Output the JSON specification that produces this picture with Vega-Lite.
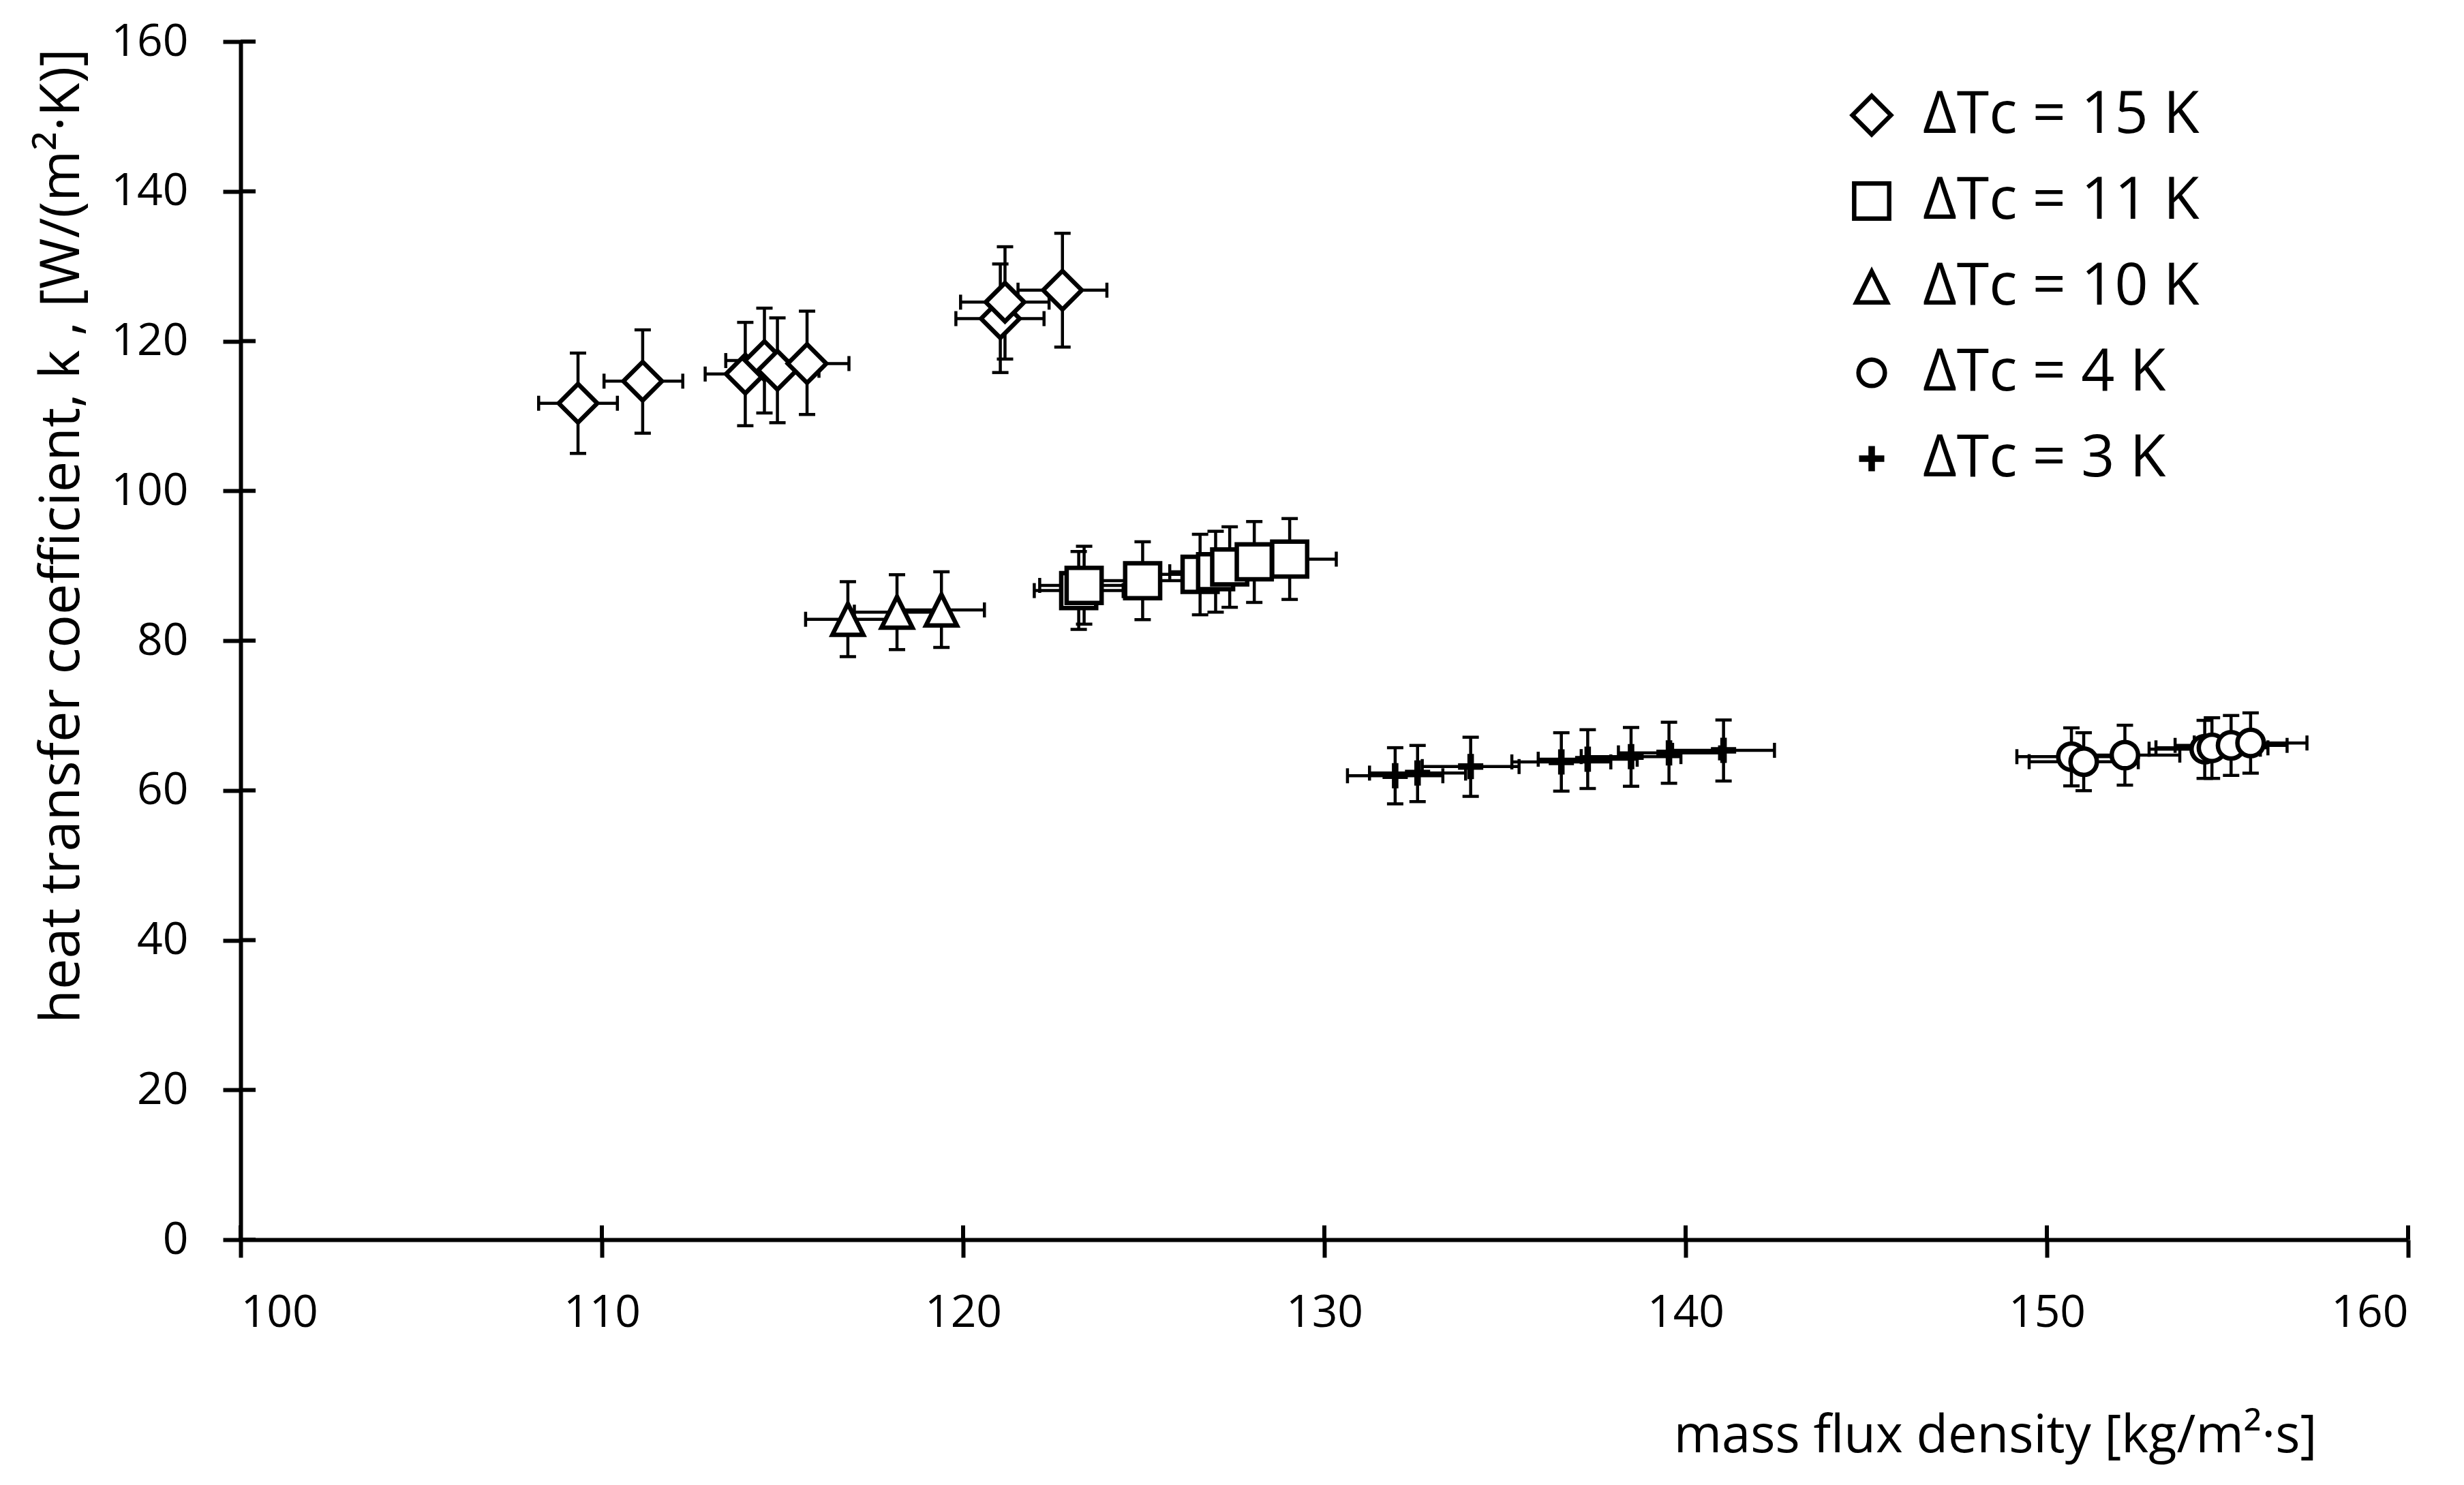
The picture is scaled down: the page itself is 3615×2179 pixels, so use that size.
{
  "$schema": "https://vega.github.io/schema/vega-lite/v6.json",
  "width": 3180,
  "height": 1758,
  "autosize": {"type": "none"},
  "padding": {"left": 353, "top": 61, "right": 82, "bottom": 360},
  "background": "white",
  "config": {
    "view": {"stroke": null},
    "font": "Open Sans",
    "axis": {
      "grid": false,
      "domainColor": "black",
      "domainWidth": 6,
      "tickColor": "black",
      "tickWidth": 6,
      "tickSize": 26,
      "labelFont": "Open Sans",
      "labelFontSize": 66,
      "labelColor": "black",
      "titleFont": "Open Sans",
      "titleFontSize": 76,
      "titleFontWeight": "normal",
      "titleColor": "black"
    },
    "legend": {
      "labelFont": "Open Sans",
      "labelFontSize": 86,
      "labelColor": "black",
      "labelLimit": 0,
      "symbolStrokeColor": "black",
      "symbolStrokeWidth": 6.5,
      "symbolOpacity": 1
    }
  },
  "datasets": {
    "pts": [
      {"series": "ΔTc = 15 K", "x": 109.34, "y": 111.7, "xlo": 108.25, "xhi": 110.43, "ylo": 105.0, "yhi": 118.4},
      {"series": "ΔTc = 15 K", "x": 111.13, "y": 114.65, "xlo": 110.06, "xhi": 112.24, "ylo": 107.7, "yhi": 121.5},
      {"series": "ΔTc = 15 K", "x": 113.97, "y": 115.6, "xlo": 112.86, "xhi": 115.08, "ylo": 108.7, "yhi": 122.5},
      {"series": "ΔTc = 15 K", "x": 114.5, "y": 117.4, "xlo": 113.43, "xhi": 115.57, "ylo": 110.4, "yhi": 124.4},
      {"series": "ΔTc = 15 K", "x": 114.86, "y": 116.1, "xlo": 113.71, "xhi": 116.01, "ylo": 109.1, "yhi": 123.1},
      {"series": "ΔTc = 15 K", "x": 115.68, "y": 117.0, "xlo": 114.52, "xhi": 116.84, "ylo": 110.2, "yhi": 124.0},
      {"series": "ΔTc = 15 K", "x": 121.03, "y": 123.0, "xlo": 119.8, "xhi": 122.24, "ylo": 115.8, "yhi": 130.3},
      {"series": "ΔTc = 15 K", "x": 121.16, "y": 125.2, "xlo": 119.93, "xhi": 122.38, "ylo": 117.6, "yhi": 132.6},
      {"series": "ΔTc = 15 K", "x": 122.75, "y": 126.8, "xlo": 121.52, "xhi": 123.98, "ylo": 119.2, "yhi": 134.4},
      {"series": "ΔTc = 11 K", "x": 123.2, "y": 86.68, "xlo": 121.97, "xhi": 124.43, "ylo": 81.5, "yhi": 91.9},
      {"series": "ΔTc = 11 K", "x": 123.35, "y": 87.37, "xlo": 122.12, "xhi": 124.58, "ylo": 82.2, "yhi": 92.6},
      {"series": "ΔTc = 11 K", "x": 124.97, "y": 88.0, "xlo": 123.72, "xhi": 126.22, "ylo": 82.8, "yhi": 93.2},
      {"series": "ΔTc = 11 K", "x": 126.56, "y": 88.85, "xlo": 125.29, "xhi": 127.83, "ylo": 83.45, "yhi": 94.2},
      {"series": "ΔTc = 11 K", "x": 126.99, "y": 89.2, "xlo": 125.72, "xhi": 128.26, "ylo": 83.8, "yhi": 94.6},
      {"series": "ΔTc = 11 K", "x": 127.38, "y": 89.84, "xlo": 126.11, "xhi": 128.65, "ylo": 84.45, "yhi": 95.2},
      {"series": "ΔTc = 11 K", "x": 128.06, "y": 90.52, "xlo": 126.78, "xhi": 129.34, "ylo": 85.1, "yhi": 95.9},
      {"series": "ΔTc = 11 K", "x": 129.04, "y": 90.88, "xlo": 127.75, "xhi": 130.33, "ylo": 85.5, "yhi": 96.3},
      {"series": "ΔTc = 10 K", "x": 116.81, "y": 82.85, "xlo": 115.64, "xhi": 117.98, "ylo": 77.86, "yhi": 87.87},
      {"series": "ΔTc = 10 K", "x": 118.17, "y": 83.8, "xlo": 116.99, "xhi": 119.35, "ylo": 78.8, "yhi": 88.8},
      {"series": "ΔTc = 10 K", "x": 119.4, "y": 84.1, "xlo": 118.21, "xhi": 120.59, "ylo": 79.1, "yhi": 89.2},
      {"series": "ΔTc = 4 K", "x": 150.68, "y": 64.5, "xlo": 149.17, "xhi": 152.19, "ylo": 60.6, "yhi": 68.35},
      {"series": "ΔTc = 4 K", "x": 151.02, "y": 63.83, "xlo": 149.51, "xhi": 152.53, "ylo": 59.96, "yhi": 67.7},
      {"series": "ΔTc = 4 K", "x": 152.16, "y": 64.71, "xlo": 150.64, "xhi": 153.68, "ylo": 60.7, "yhi": 68.7},
      {"series": "ΔTc = 4 K", "x": 154.37, "y": 65.5, "xlo": 152.83, "xhi": 155.91, "ylo": 61.6, "yhi": 69.35},
      {"series": "ΔTc = 4 K", "x": 154.57, "y": 65.68, "xlo": 153.02, "xhi": 156.12, "ylo": 61.6, "yhi": 69.7},
      {"series": "ΔTc = 4 K", "x": 155.1, "y": 66.01, "xlo": 153.55, "xhi": 156.65, "ylo": 62.0, "yhi": 70.0},
      {"series": "ΔTc = 4 K", "x": 155.64, "y": 66.33, "xlo": 154.08, "xhi": 157.2, "ylo": 62.3, "yhi": 70.35},
      {"series": "ΔTc = 3 K", "x": 131.96, "y": 61.95, "xlo": 130.64, "xhi": 133.28, "ylo": 58.2, "yhi": 65.7},
      {"series": "ΔTc = 3 K", "x": 132.58, "y": 62.31, "xlo": 131.25, "xhi": 133.91, "ylo": 58.5, "yhi": 66.0},
      {"series": "ΔTc = 3 K", "x": 134.05, "y": 63.18, "xlo": 132.71, "xhi": 135.39, "ylo": 59.2, "yhi": 67.1},
      {"series": "ΔTc = 3 K", "x": 136.56, "y": 63.8, "xlo": 135.19, "xhi": 137.93, "ylo": 59.9, "yhi": 67.7},
      {"series": "ΔTc = 3 K", "x": 137.29, "y": 64.16, "xlo": 135.92, "xhi": 138.66, "ylo": 60.25, "yhi": 68.1},
      {"series": "ΔTc = 3 K", "x": 138.49, "y": 64.51, "xlo": 137.11, "xhi": 139.87, "ylo": 60.55, "yhi": 68.4},
      {"series": "ΔTc = 3 K", "x": 139.54, "y": 65.01, "xlo": 138.14, "xhi": 140.94, "ylo": 60.95, "yhi": 69.1},
      {"series": "ΔTc = 3 K", "x": 141.05, "y": 65.35, "xlo": 139.64, "xhi": 142.46, "ylo": 61.25, "yhi": 69.4}
    ],
    "yticks": [{"t": 0}, {"t": 20}, {"t": 40}, {"t": 60}, {"t": 80}, {"t": 100}, {"t": 120}, {"t": 140}, {"t": 160}],
    "xticks": [{"t": 100}, {"t": 110}, {"t": 120}, {"t": 130}, {"t": 140}, {"t": 150}, {"t": 160}]
  },
  "layer": [
    {
      "data": {"name": "yticks"},
      "mark": {"type": "rule", "color": "black", "strokeWidth": 6},
      "encoding": {
        "y": {"field": "t", "type": "quantitative", "scale": {"domain": [0, 160], "nice": false, "zero": false},
          "axis": {"values": [0, 20, 40, 60, 80, 100, 120, 140, 160], "labelPadding": 51,
            "title": "heat transfer coefficient, k ,  [W/(m²·K)]", "titleFontSize": 81,
            "titleX": -238, "titleY": 725, "titleAlign": "center", "titleBaseline": "alphabetic", "titleAngle": 270}},
        "x": {"datum": 100, "type": "quantitative", "scale": {"domain": [100, 160], "nice": false, "zero": false},
          "axis": {"values": [100, 110, 120, 130, 140, 150, 160], "labelPadding": 49,
            "title": "mass flux density [kg/m²·s]",
            "titleX": 2574, "titleY": 311, "titleAlign": "center", "titleBaseline": "alphabetic"}},
        "x2": {"datum": 100.415}
      }
    },
    {
      "data": {"name": "xticks"},
      "mark": {"type": "rule", "color": "black", "strokeWidth": 6},
      "encoding": {
        "x": {"field": "t", "type": "quantitative"},
        "y": {"datum": 0, "type": "quantitative"},
        "y2": {"datum": 1.9}
      }
    },
    {
      "data": {"name": "pts"},
      "mark": {"type": "rule", "color": "black", "strokeWidth": 4.5},
      "encoding": {
        "x": {"field": "x", "type": "quantitative"},
        "y": {"field": "ylo", "type": "quantitative"},
        "y2": {"field": "yhi"}
      }
    },
    {
      "data": {"name": "pts"},
      "mark": {"type": "rule", "color": "black", "strokeWidth": 4.5},
      "encoding": {
        "y": {"field": "y", "type": "quantitative"},
        "x": {"field": "xlo", "type": "quantitative"},
        "x2": {"field": "xhi"}
      }
    },
    {
      "data": {"name": "pts"},
      "mark": {"type": "tick", "orient": "horizontal", "color": "black", "size": 24, "thickness": 4.5, "opacity": 1},
      "encoding": {
        "x": {"field": "x", "type": "quantitative"},
        "y": {"field": "ylo", "type": "quantitative"}
      }
    },
    {
      "data": {"name": "pts"},
      "mark": {"type": "tick", "orient": "horizontal", "color": "black", "size": 24, "thickness": 4.5, "opacity": 1},
      "encoding": {
        "x": {"field": "x", "type": "quantitative"},
        "y": {"field": "yhi", "type": "quantitative"}
      }
    },
    {
      "data": {"name": "pts"},
      "mark": {"type": "tick", "orient": "vertical", "color": "black", "size": 22, "thickness": 4.5, "opacity": 1},
      "encoding": {
        "x": {"field": "xlo", "type": "quantitative"},
        "y": {"field": "y", "type": "quantitative"}
      }
    },
    {
      "data": {"name": "pts"},
      "mark": {"type": "tick", "orient": "vertical", "color": "black", "size": 22, "thickness": 4.5, "opacity": 1},
      "encoding": {
        "x": {"field": "xhi", "type": "quantitative"},
        "y": {"field": "y", "type": "quantitative"}
      }
    },
    {
      "data": {"name": "pts"},
      "mark": {"type": "point", "filled": true, "stroke": "black", "strokeWidth": 6.5, "opacity": 1, "fillOpacity": 1, "strokeOpacity": 1},
      "encoding": {
        "x": {"field": "x", "type": "quantitative"},
        "y": {"field": "y", "type": "quantitative"},
        "shape": {"field": "series", "type": "nominal",
          "scale": {"domain": ["ΔTc = 15 K", "ΔTc = 11 K", "ΔTc = 10 K", "ΔTc = 4 K", "ΔTc = 3 K"],
            "range": ["diamond", "square", "M0,-1L1,1L-1,1Z", "circle", "M-0.1,-1L0.1,-1L0.1,-0.1L1,-0.1L1,0.1L0.1,0.1L0.1,1L-0.1,1L-0.1,0.1L-1,0.1L-1,-0.1L-0.1,-0.1Z"]},
          "legend": {"title": null, "orient": "none", "legendX": 2350, "legendY": 65, "padding": 0, "rowPadding": 40, "labelOffset": 32, "labelBaseline": "middle", "labelLimit": 0,
            "encode": {"symbols": {"update": {"stroke": {"value": "black"}, "strokeWidth": {"value": 6.5}, "opacity": {"value": 1}}}}}},
        "fill": {"field": "series", "type": "nominal",
          "scale": {"domain": ["ΔTc = 15 K", "ΔTc = 11 K", "ΔTc = 10 K", "ΔTc = 4 K", "ΔTc = 3 K"],
            "range": ["white", "white", "white", "white", "black"]},
          "legend": {"title": null, "orient": "none", "legendX": 2350, "legendY": 65, "padding": 0, "rowPadding": 40, "labelOffset": 32, "labelBaseline": "middle", "labelLimit": 0,
            "encode": {"symbols": {"update": {"stroke": {"value": "black"}, "strokeWidth": {"value": 6.5}, "opacity": {"value": 1}}}}}},
        "size": {"field": "series", "type": "nominal",
          "scale": {"domain": ["ΔTc = 15 K", "ΔTc = 11 K", "ΔTc = 10 K", "ΔTc = 4 K", "ΔTc = 3 K"],
            "range": [3200, 930, 1650, 1100, 600]},
          "legend": {"title": null, "orient": "none", "legendX": 2350, "legendY": 65, "padding": 0, "rowPadding": 40, "labelOffset": 32, "labelBaseline": "middle", "labelLimit": 0,
            "encode": {"symbols": {"update": {"stroke": {"value": "black"}, "strokeWidth": {"value": 6.5}, "opacity": {"value": 1}}}}}}
      }
    }
  ]
}
